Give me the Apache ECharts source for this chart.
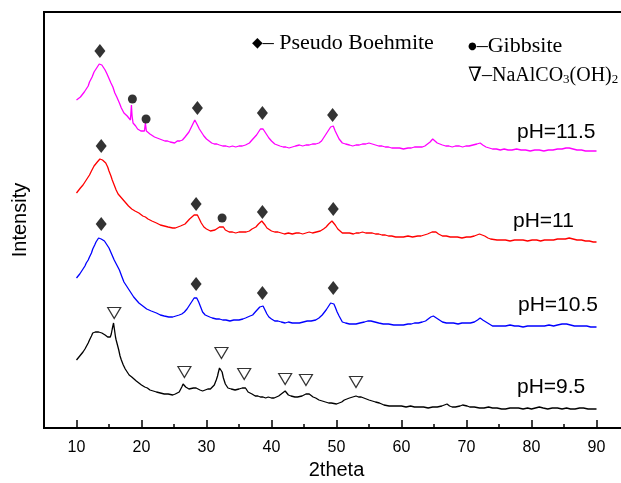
<!DOCTYPE html>
<html>
<head>
<meta charset="utf-8">
<script src="https://cdn.jsdelivr.net/npm/echarts@6/dist/echarts.min.js"></script>
<style>
  html, body { margin: 0; padding: 0; background: #fff; }
  #chart { width: 621px; height: 483px; }
</style>
</head>
<body>
<div id="chart"></div>
<script>
// XRD patterns (2theta, stacked intensity in arbitrary units)
const xTicks = [10, 20, 30, 40, 50, 60, 70, 80, 90];
const xMinorTicks = [15, 25, 35, 45, 55, 65, 75, 85];
const sampleNames = ['pH=11.5', 'pH=11', 'pH=10.5', 'pH=9.5'];

const ph115 = [
  [10,328],[10.3,330],[10.6,331],[10.9,333],[11.2,336],[11.5,339],[11.8,342],[12,346],[12.2,348],[12.4,351],[12.7,356],[12.9,357],[13.1,360],
  [13.3,362],[13.5,364],[13.6,363],[13.7,365],[13.9,363],[14,364],[14.2,361],[14.4,358],[14.5,356],[14.7,354],[14.9,351],[15.1,348],[15.3,345],
  [15.6,341],[15.9,335],[16.2,331],[16.6,325],[16.9,320],[17.3,315],[17.6,313],[17.8,312],[18.1,310],[18.3,308],[18.4,318],[18.45,323],
  [18.55,312],[18.7,305],[18.9,303],[19.1,302],[19.4,299],[19.6,298],[19.9,297],[20.2,296],[20.45,297],[20.6,305],[20.75,297],[21,295],
  [21.3,294],[21.6,293],[22,291],[22.4,290],[22.8,289],[23.2,288],[23.6,287],[24,287],[24.4,286],[24.7,286],[25.1,285],[25.5,287],[25.9,287],
  [26.3,288],[26.7,291],[27,293],[27.3,296],[27.6,300],[27.9,304],[28.2,308],[28.4,306],[28.6,303],[28.9,299],[29.3,295],[29.6,292],[30,289],
  [30.4,287],[30.8,285],[31.2,284],[31.6,284],[32,283],[32.5,282],[33,282],[33.5,281],[34,282],[34.5,281],[35,282],[35.5,282],[36,283],
  [36.3,284],[36.6,285],[37,288],[37.3,290],[37.7,293],[38,296],[38.3,299],[38.5,301],[38.7,299],[39,296],[39.3,293],[39.6,290],[40,287],
  [40.5,284],[40.9,283],[41.3,282],[41.8,281],[42.2,281],[42.7,280],[43.2,281],[43.7,282],[44.3,283],[44.8,282],[45.3,283],[45.8,283],
  [46.3,284],[46.8,284],[47.3,285],[47.7,287],[48,290],[48.4,294],[48.8,298],[49.1,301],[49.3,303],[49.5,302],[49.8,297],[50.1,293],[50.4,289],
  [50.9,285],[51.4,284],[52,283],[52.5,282],[53,283],[53.5,283],[54,284],[54.5,284],[55,285],[55.5,284],[56,283],[56.5,282],[57,282],
  [57.5,281],[58,281],[58.5,280],[59,280],[59.7,280],[60.3,279],[61,280],[61.5,280],[62,281],[62.6,281],[63.2,281],[63.6,282],[64,284],
  [64.4,286],[64.8,289],[65.1,287],[65.5,285],[65.9,284],[66.3,283],[66.8,282],[67.3,282],[67.8,281],[68.3,282],[68.9,282],[69.4,281],
  [69.9,282],[70.4,282],[71,283],[71.6,284],[72.1,285],[72.5,283],[73,281],[73.5,280],[74,279],[74.6,279],[75.2,278],[75.8,279],[76.4,278],
  [77,278],[77.7,279],[78.4,278],[79.1,278],[79.8,277],[80.5,278],[81.2,278],[81.9,277],[82.6,278],[83.3,278],[84,279],[84.7,279],[85.3,280],
  [85.8,280],[86.4,279],[87,278],[87.7,278],[88.3,277],[89,277],[89.5,277],[90,277]
];
const ph11 = [
  [10,235],[10.3,237],[10.6,240],[11,243],[11.3,246],[11.6,249],[12,253],[12.3,257],[12.7,262],[13,264],[13.2,266],[13.4,268],[13.6,269],
  [13.8,268],[14,268],[14.3,266],[14.5,265],[14.8,261],[15,257],[15.3,252],[15.5,248],[15.8,243],[16.1,238],[16.4,234],[16.8,231],[17.2,228],
  [17.6,225],[18,222],[18.5,219],[19,217],[19.6,215],[20.2,212],[20.6,211],[21,209],[21.6,207],[22.3,205],[22.9,203],[23.5,202],[24.1,201],
  [24.8,200],[25.2,200],[25.6,201],[26,202],[26.3,203],[26.7,204],[27,206],[27.4,209],[27.7,211],[28.1,213],[28.4,215],[28.6,213],[28.9,209],
  [29.2,205],[29.6,201],[30,199],[30.3,198],[30.6,197],[30.9,197],[31.3,198],[31.6,199],[32,201],[32.3,203],[32.6,201],[32.9,198],[33.2,197],
  [33.5,196],[34,196],[34.5,195],[35,196],[35.3,195],[35.7,196],[36.1,196],[36.6,197],[37,199],[37.3,200],[37.6,201],[38,204],[38.3,206],
  [38.5,207],[38.7,206],[39,203],[39.3,200],[39.6,198],[40,197],[40.5,196],[41,196],[41.5,195],[42,194],[42.6,195],[43.2,194],[43.8,195],
  [44.3,195],[44.8,194],[45.3,195],[45.8,196],[46.3,195],[46.9,196],[47.5,197],[48,199],[48.4,201],[48.8,204],[49.1,206],[49.3,207],[49.6,205],
  [49.8,203],[50.2,199],[50.5,197],[50.9,195],[51.4,195],[52,195],[52.6,194],[53,195],[53.5,195],[54,196],[54.5,195],[55,195],[55.5,195],
  [56,194],[56.5,194],[57,193],[57.5,193],[58,192],[58.5,192],[59.1,191],[59.7,191],[60.3,191],[61,192],[61.7,191],[62.5,192],[63,192],
  [63.5,193],[64,194],[64.3,195],[64.7,196],[65,197],[65.3,196],[65.7,194],[66,193],[66.3,192],[66.9,192],[67.5,191],[68,191],[68.6,191],
  [69.3,190],[70,191],[70.6,191],[71.2,192],[71.6,193],[72,194],[72.4,193],[72.8,192],[73.3,190],[73.7,189],[74,188],[74.7,188],[75.4,188],
  [76,188],[76.7,187],[77.4,188],[78,188],[78.7,188],[79.4,187],[80.1,188],[80.8,188],[81.4,187],[82,188],[82.7,188],[83.4,188],[84,189],
  [84.6,189],[85.2,189],[85.8,190],[86.4,189],[87,188],[87.7,188],[88.3,187],[88.9,187],[89.5,186],[90,186]
];
const ph105 = [
  [10,150],[10.3,152],[10.5,154],[10.8,157],[11,159],[11.3,162],[11.5,165],[11.8,168],[12,171],[12.3,175],[12.5,179],[12.8,183],[13,186],
  [13.2,188],[13.4,190],[13.5,191],[13.7,190],[13.8,189],[14,189],[14.3,187],[14.6,184],[15,180],[15.4,174],[15.8,168],[16.2,163],[16.6,158],
  [17,151],[17.3,146],[17.7,142],[18.1,138],[18.5,134],[18.8,131],[19.2,128],[19.6,125],[20.2,122],[20.8,119],[21.5,117],[22.3,115],[22.9,113],
  [23.5,112],[24.2,111],[24.8,111],[25.3,112],[25.8,113],[26.2,114],[26.6,116],[27,119],[27.4,123],[27.8,127],[28.1,130],[28.3,131],[28.5,130],
  [28.8,126],[29.1,121],[29.4,116],[29.8,113],[30.1,112],[30.5,111],[30.9,110],[31.5,109],[32,109],[32.5,108],[33,108],[33.6,107],[34.2,108],
  [35,108],[35.6,109],[36,110],[36.3,111],[36.7,112],[37.1,113],[37.5,116],[37.8,118],[38.2,121],[38.5,123],[38.7,122],[39,118],[39.3,114],
  [39.6,111],[40,109],[40.5,107],[41,107],[41.5,106],[42.1,105],[42.6,106],[43.2,105],[43.8,105],[44.3,105],[44.9,106],[45.5,107],[46.1,107],
  [46.8,108],[47.3,110],[47.8,113],[48.1,115],[48.4,118],[48.8,122],[49.1,125],[49.3,126],[49.6,124],[49.8,121],[50.1,116],[50.4,112],[50.9,106],
  [51.4,105],[52,104],[52.5,104],[53,104],[53.6,105],[54.3,106],[54.8,107],[55.3,107],[55.9,106],[56.5,105],[57.2,104],[58,104],[58.8,103],
  [59.7,103],[60.3,103],[61,104],[61.5,104],[62,105],[62.6,105],[63.2,106],[63.7,107],[64.1,109],[64.5,111],[64.9,112],[65.2,111],[65.6,109],
  [65.9,107],[66.3,106],[66.9,105],[67.5,105],[68,105],[68.7,104],[69.3,105],[70,105],[70.6,105],[71.2,106],[71.7,108],[72.1,110],[72.5,108],
  [73,106],[73.5,104],[74,102],[74.7,102],[75.4,102],[76,102],[76.7,103],[77.4,102],[78,102],[78.7,101],[79.4,102],[80.1,102],[80.8,102],
  [81.4,102],[82,102],[82.7,103],[83.4,102],[84,103],[84.7,104],[85.4,104],[86,103],[86.6,102],[87.2,102],[87.8,102],[88.5,102],[89.1,101],
  [89.6,101],[90,101]
];
const ph95 = [
  [10,68],[10.3,70],[10.5,72],[10.8,74],[11,76],[11.3,79],[11.5,81],[11.8,85],[12,88],[12.3,92],[12.5,95],[12.7,95],[12.9,96],[13.1,98],
  [13.2,97],[13.4,96],[13.6,95],[13.9,95],[14.2,93],[14.4,93],[14.6,91],[14.8,91],[15,90],[15.2,91],[15.35,94],[15.5,99],[15.7,105],[15.85,98],
  [16,91],[16.1,88],[16.3,83],[16.5,78],[16.7,72],[16.9,68],[17.2,63],[17.5,59],[17.8,56],[18.1,53],[18.5,51],[18.8,49],[19.2,47],[19.6,45],
  [20,43],[20.5,41],[20.9,40],[21.3,38],[21.8,37],[22.3,36],[22.9,35],[23.5,34],[24.1,34],[24.8,33],[25.2,34],[25.5,35],[25.8,36],[26,38],
  [26.2,41],[26.4,44],[26.6,43],[26.8,41],[27,40],[27.3,39],[27.6,40],[28,40],[28.2,39],[28.4,40],[28.7,39],[29,38],[29.4,37],[29.8,38],
  [30.2,39],[30.6,39],[30.9,40],[31.2,43],[31.5,48],[31.7,52],[31.8,55],[32,60],[32.1,62],[32.2,61],[32.4,56],[32.6,50],[32.7,48],[32.9,44],
  [33.1,42],[33.3,40],[33.5,39],[33.8,39],[34.1,38],[34.4,38],[34.7,37],[35,39],[35.3,41],[35.5,40],[35.8,41],[36,40],[36.2,38],[36.4,36],
  [36.6,35],[37,34],[37.5,32],[37.9,32],[38.3,31],[38.7,31],[39.1,30],[39.5,31],[40,30],[40.4,30],[40.7,31],[41.1,32],[41.5,34],[41.8,35],
  [42.1,37],[42.4,35],[42.6,33],[43,32],[43.3,32],[43.6,31],[44,31],[44.3,31],[44.7,32],[45,33],[45.3,34],[45.5,35],[45.8,34],[46,33],
  [46.4,31],[46.8,30],[47.3,28],[47.8,27],[48.3,26],[48.8,25],[49.2,25],[49.5,24],[50,24],[50.4,25],[50.8,26],[51.2,28],[51.6,29],[52,30],
  [52.5,31],[53,32],[53.4,31],[53.8,31],[54.2,30],[54.5,30],[55,28],[55.5,27],[56,26],[56.6,25],[57.3,23],[58.1,22],[58.8,22],[59.5,22],
  [60,22],[60.7,21],[61.4,22],[62,21],[62.7,21],[63.4,21],[64.1,20],[64.8,21],[65.5,21],[66.2,22],[66.6,23],[67,24],[67.4,22],[67.8,21],
  [68.3,21],[69,22],[69.4,23],[69.7,23],[70.1,22],[70.5,21],[71.2,21],[72,20],[72.7,20],[73.4,21],[74,20],[74.7,20],[75.4,19],[76,19],
  [76.7,20],[77.4,20],[78,20],[78.7,19],[79.4,20],[80,19],[80.6,20],[81.2,21],[81.8,20],[82.5,19],[83.2,20],[84,20],[84.7,19],[85.4,20],
  [86,19],[86.7,19],[87.4,20],[88,20],[88.7,19],[89.4,19],[90,19]
];

// Phase markers placed above the reflections
const boehmitePeaks = [
  [13.6,377],[28.6,320],[38.6,315],[49.4,313],
  [13.8,282],[28.4,224],[38.6,216],[49.5,219],
  [13.8,204],[28.4,144],[38.6,135],[49.5,140]
];
const gibbsitePeaks = [[18.6,329],[20.7,309],[32.4,210]];
const carbonatePeaks = [[15.8,115],[26.6,56],[32.3,75],[35.8,54],[42.1,49],[45.3,48],[53.0,46]];

const chart = echarts.init(document.getElementById('chart'), null, { renderer: 'canvas' });

const lineSeries = (name, data, color) => ({
  name, type: 'line', data, showSymbol: false, symbol: 'none', smooth: false,
  lineStyle: { color, width: 1.3 }, silent: true, animation: false, z: 2
});

const serifFont = '"Liberation Serif", "Times New Roman", "DejaVu Serif", serif';
const sansFont = '"Liberation Sans", Arial, sans-serif';

chart.setOption({
  animation: false,
  backgroundColor: '#fff',
  grid: {
    left: 44, width: 585, top: 12, height: 416,
    outerBoundsMode: 'none', containLabel: false,
    show: true, borderColor: '#000', borderWidth: 2, backgroundColor: 'transparent'
  },
  xAxis: [{
    type: 'value', min: 5, max: 95,
    name: '2theta', nameLocation: 'middle', nameGap: 29,
    nameTextStyle: { fontFamily: sansFont, fontSize: 20, color: '#000' },
    axisLine: { show: true, lineStyle: { color: '#000', width: 2 } },
    axisTick: { show: true, inside: true, length: 8, customValues: xTicks, lineStyle: { color: '#000', width: 1.5 } },
    axisLabel: { show: true, customValues: xTicks, margin: 12, fontFamily: sansFont, fontSize: 16, color: '#000' },
    splitLine: { show: false }
  }, {
    type: 'value', min: 5, max: 95, position: 'bottom',
    axisLine: { show: false },
    axisTick: { show: true, inside: true, length: 4, customValues: xMinorTicks, lineStyle: { color: '#000', width: 1.5 } },
    axisLabel: { show: false },
    splitLine: { show: false }
  }],
  yAxis: {
    type: 'value', min: 0, max: 416,
    name: 'Intensity', nameLocation: 'middle', nameGap: 14,
    nameTextStyle: { fontFamily: sansFont, fontSize: 20, color: '#000' },
    axisLine: { show: true, lineStyle: { color: '#000', width: 2 } },
    axisTick: { show: false }, axisLabel: { show: false }, splitLine: { show: false }
  },
  series: [
    lineSeries(sampleNames[0], ph115, '#FF00FF'),
    lineSeries(sampleNames[1], ph11, '#FF0000'),
    lineSeries(sampleNames[2], ph105, '#0000FF'),
    lineSeries(sampleNames[3], ph95, '#000000'),
    { type: 'scatter', data: boehmitePeaks, symbol: 'diamond', symbolSize: [11, 14], itemStyle: { color: '#000' }, z: 3, animation: false },
    { type: 'scatter', data: gibbsitePeaks, symbol: 'circle', symbolSize: 9, itemStyle: { color: '#000' }, z: 3, animation: false },
    { type: 'scatter', data: carbonatePeaks, symbol: 'triangle', symbolRotate: 180, symbolSize: [13, 11],
      itemStyle: { color: '#fff', borderColor: '#000', borderWidth: 1.2 }, z: 3, animation: false }
  ],
  graphic: [
    { type: 'text', left: 252, top: 32, style: {
        text: '{g|◆}{a|– Pseudo Boehmite}',
        rich: {
          g: { font: '14px "DejaVu Sans", sans-serif', fill: '#000' },
          a: { font: '22px ' + serifFont, fill: '#000' }
        }
    } },
    { type: 'text', left: 468, top: 35, style: {
        text: '{g|●}{a|–Gibbsite}',
        rich: {
          g: { font: '10px "DejaVu Sans", sans-serif', fill: '#000' },
          a: { font: '22px ' + serifFont, fill: '#000' }
        }
    } },
    { type: 'text', left: 468, top: 66, style: {
        text: '{a|∇–NaAlCO}{s|3}{a|(OH)}{s|2}',
        rich: {
          a: { font: '20px ' + serifFont, fill: '#000', verticalAlign: 'bottom' },
          s: { font: '13px ' + serifFont, fill: '#000', padding: [8, 0, 0, 0] }
        }
    } },
    { type: 'text', left: 517, top: 122, style: { text: sampleNames[0], font: '21px ' + sansFont, fill: '#000' } },
    { type: 'text', left: 513, top: 211, style: { text: sampleNames[1], font: '21px ' + sansFont, fill: '#000' } },
    { type: 'text', left: 518, top: 295, style: { text: sampleNames[2], font: '21px ' + sansFont, fill: '#000' } },
    { type: 'text', left: 517, top: 377, style: { text: sampleNames[3], font: '21px ' + sansFont, fill: '#000' } }
  ]
});
</script>
</body>
</html>
